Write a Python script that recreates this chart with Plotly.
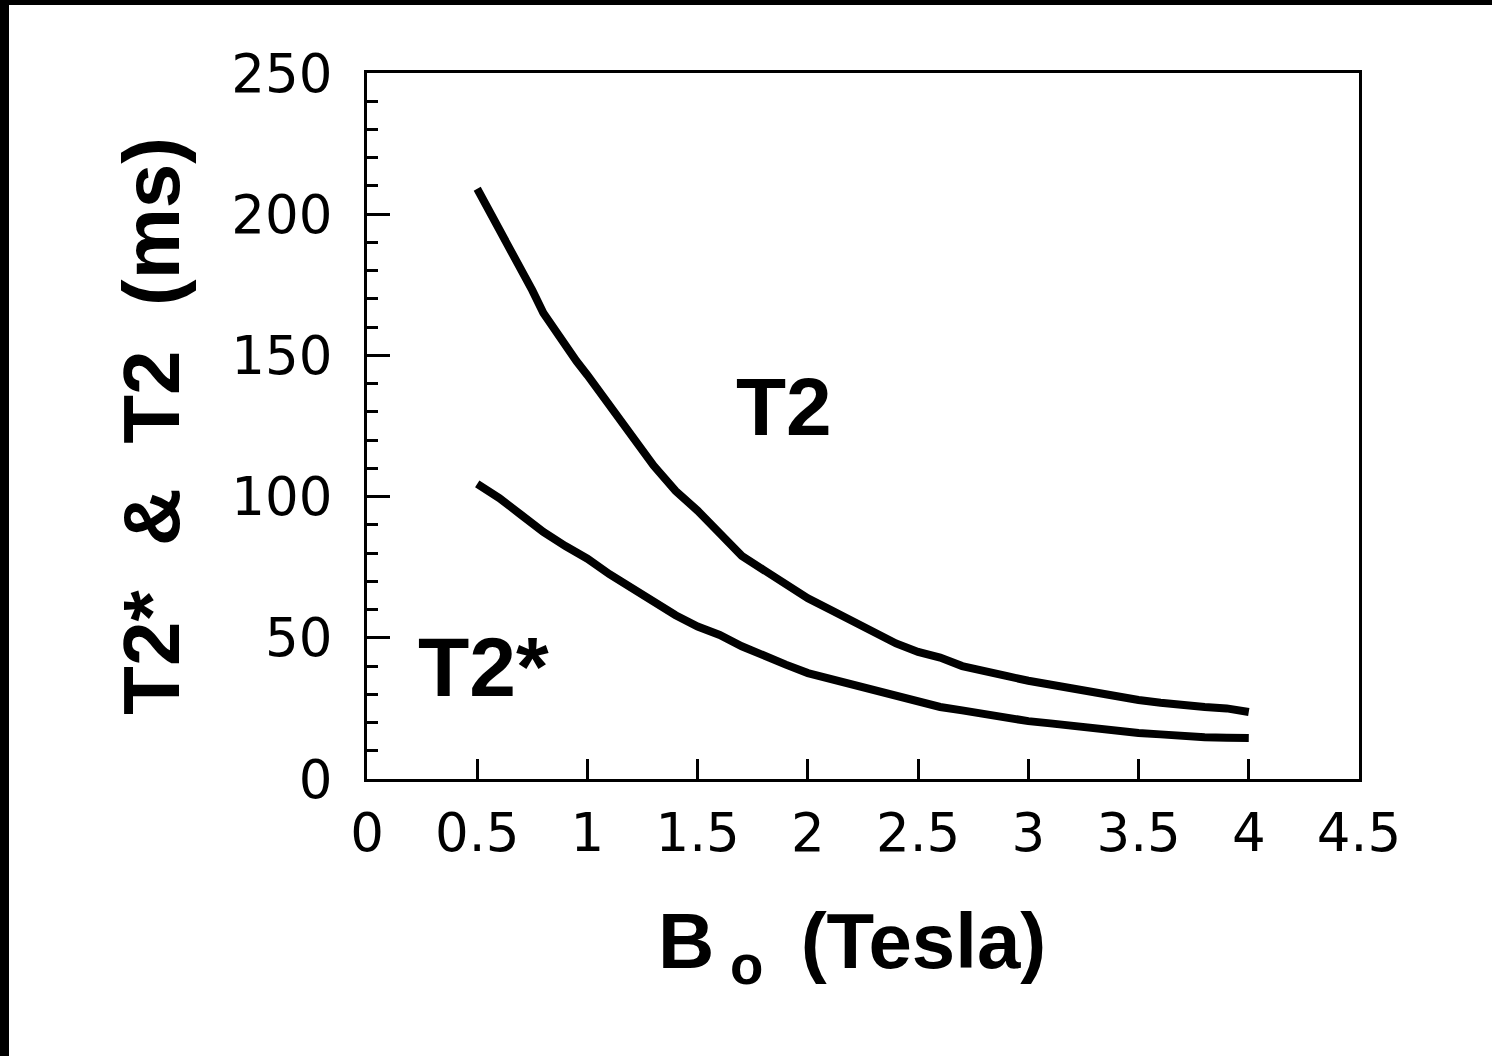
import plotly.graph_objects as go

# field strength (Tesla) and relaxation times (ms)
b_t2 = [0.5, 0.55, 0.6, 0.65, 0.7, 0.75, 0.8, 0.85, 0.9, 0.95, 1.0, 1.1, 1.2, 1.3, 1.4,
        1.5, 1.6, 1.7, 1.8, 1.9, 2.0, 2.1, 2.2, 2.3, 2.4, 2.5, 2.6, 2.7, 2.8, 2.9,
        3.0, 3.1, 3.2, 3.3, 3.4, 3.5, 3.6, 3.7, 3.8, 3.9, 3.95, 4.0]
t2 = [209, 202, 194, 187, 180, 173, 165, 159, 153, 148, 143, 132, 121, 111, 102,
      95, 87, 79, 74, 69, 64, 60, 56, 52, 48, 45, 43, 40, 38, 36.5,
      34.8, 33.3, 32, 30.5, 29.5, 28, 27, 26, 25.5, 25, 24.5, 23.7]

b_t2s = [0.5, 0.6, 0.7, 0.8, 0.9, 1.0, 1.1, 1.2, 1.3, 1.4, 1.5, 1.6, 1.7, 1.8, 1.9,
         2.0, 2.1, 2.2, 2.3, 2.4, 2.5, 2.6, 2.7, 2.8, 2.9, 3.0, 3.1, 3.2, 3.3, 3.4,
         3.5, 3.6, 3.7, 3.8, 3.9, 4.0]
t2_star = [104.5, 99.5, 93.5, 87.5, 82.5, 78, 72.5, 67.5, 62.5, 58, 54, 51, 47, 43.5, 40.5,
           37.5, 35.5, 33.5, 31.5, 29, 27, 25.5, 24.3, 23, 21.5, 20.5, 19.7, 18.7, 17.7, 17,
           16.3, 15.8, 15, 14.8, 14.6, 14.5]

W, H = 1492, 1056
L, R, T, B = 367, 133, 73, 277
pw, ph = W - L - R, H - T - B

fig = go.Figure()
fig.add_trace(go.Scatter(x=b_t2, y=t2, mode="lines", line=dict(color="black", width=8), name="T2"))
fig.add_trace(go.Scatter(x=b_t2s, y=t2_star, mode="lines", line=dict(color="black", width=8), name="T2*"))

fig.add_annotation(x=1.89, y=132, text="<b>T2</b>", showarrow=False,
                   font=dict(family="Liberation Sans", size=82, color="black"))
fig.add_annotation(x=0.53, y=39.5, text="<b>T2*</b>", showarrow=False,
                   font=dict(family="Liberation Sans", size=84, color="black"))

# black frame on the top and left edge of the picture
def px(x):
    return (x - L) / pw

def py(y):
    return (H - B - y) / ph

fig.add_shape(type="rect", xref="paper", yref="paper", x0=px(0), x1=px(9), y0=py(H), y1=py(0),
              fillcolor="black", line_width=0, layer="above")
fig.add_shape(type="rect", xref="paper", yref="paper", x0=px(0), x1=px(W), y0=py(5), y1=py(0),
              fillcolor="black", line_width=0, layer="above")

tick_font = dict(family="DejaVu Sans", size=53, color="black")
fig.update_layout(
    width=W, height=H,
    margin=dict(l=L, r=R, t=T, b=B),
    paper_bgcolor="white", plot_bgcolor="white",
    showlegend=False,
    xaxis=dict(
        range=[0, 4.5], dtick=0.5, tick0=0,
        showline=True, linecolor="black", linewidth=3, mirror=True,
        ticks="inside", ticklen=20, tickwidth=3, tickcolor="black",
        showgrid=False, zeroline=False, tickfont=tick_font,
        ticklabelstandoff=5,
        title=dict(text="<b>B&#8201;<sub>o</sub> &#8201;(Tesla)&nbsp;</b>",
                   font=dict(family="Liberation Sans", size=78, color="black"), standoff=52),
    ),
    yaxis=dict(
        range=[0, 250], dtick=50, tick0=0,
        showline=True, linecolor="black", linewidth=3, mirror=True,
        ticks="inside", ticklen=23, tickwidth=3, tickcolor="black",
        minor=dict(dtick=10, ticks="inside", ticklen=11, tickwidth=3, tickcolor="black"),
        showgrid=False, zeroline=False, tickfont=tick_font,
        ticklabelstandoff=21,
        title=dict(text="<b>T2*&nbsp; &amp;&nbsp; T2&nbsp; (ms)</b>",
                   font=dict(family="Liberation Sans", size=80, color="black"), standoff=26),
    ),
)

fig.write_html("out.html", config={"displayModeBar": False},
               post_script="document.body.style.margin='0';")
